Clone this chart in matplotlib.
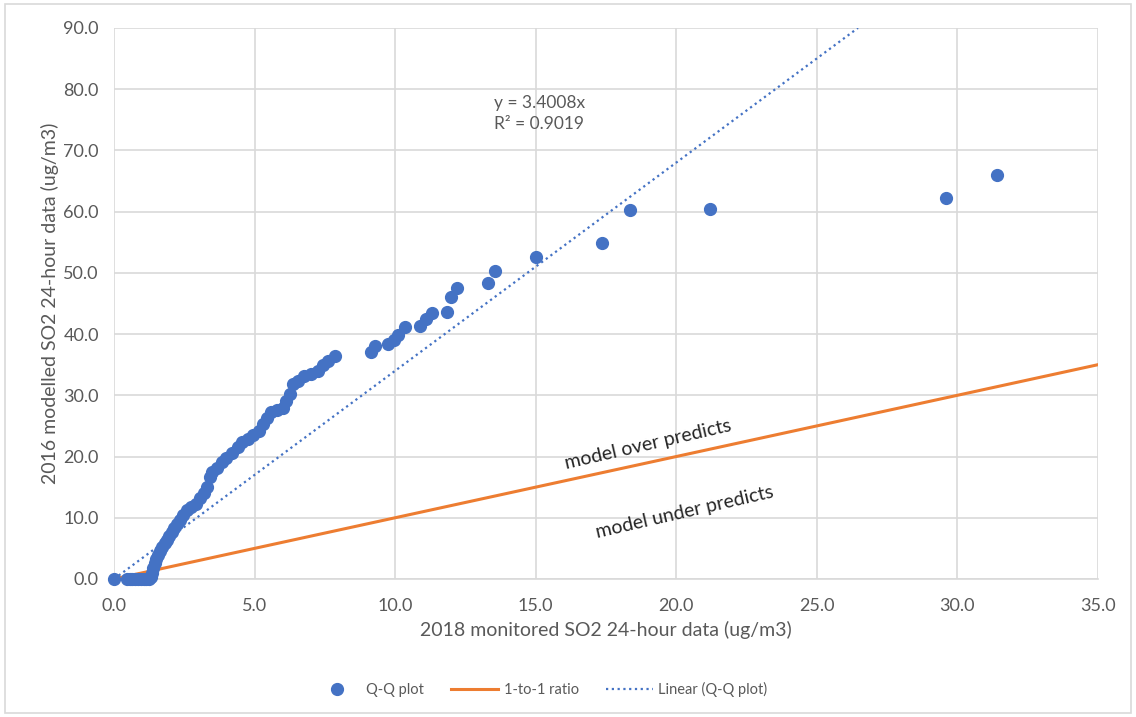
import matplotlib.pyplot as plt
from matplotlib.patches import Rectangle

plt.rcParams['font.family'] = ['Lato', 'DejaVu Sans']

# Q-Q points (monitored, modelled)
qq_x = [0.0, 0.45, 0.55, 0.65, 0.75, 0.85, 0.95, 1.05, 1.15, 1.25,
        1.3, 1.35, 1.4, 1.45, 1.5, 1.58, 1.65, 1.72, 1.8, 1.87,
        1.95, 2.05, 2.15, 2.25, 2.35, 2.45, 2.6, 2.75, 2.9, 3.05,
        3.2, 3.3, 3.4, 3.5, 3.65, 3.85, 4.0, 4.2, 4.4, 4.55,
        4.75, 4.95, 5.15, 5.3, 5.45, 5.6, 5.8, 6.0, 6.1, 6.25,
        6.35, 6.55, 6.75, 7.0, 7.25, 7.45, 7.6, 7.85, 9.15, 9.3,
        9.75, 9.95, 10.1, 10.35, 10.9, 11.1, 11.3, 11.85, 12.0, 12.2,
        13.3, 13.55, 15.0, 17.35, 18.35, 21.2, 29.6, 31.4]
qq_y = [0.0, 0.0, 0.0, 0.0, 0.0, 0.0, 0.0, 0.0, 0.0, 0.0,
        0.4, 1.0, 1.8, 2.6, 3.3, 3.9, 4.6, 5.3, 5.9, 6.4,
        7.0, 7.6, 8.3, 9.0, 9.7, 10.4, 11.2, 11.8, 12.3, 13.3,
        14.0, 15.0, 16.6, 17.5, 18.2, 19.1, 19.8, 20.5, 21.5, 22.4,
        22.8, 23.5, 24.2, 25.3, 26.3, 27.3, 27.6, 28.0, 29.0, 30.2,
        31.8, 32.4, 33.2, 33.5, 34.0, 34.9, 35.6, 36.4, 37.0, 38.0,
        38.4, 39.0, 39.8, 41.1, 41.3, 42.4, 43.5, 43.6, 46.0, 47.5,
        48.3, 50.3, 52.6, 54.9, 60.3, 60.5, 62.3, 66.0]

ratio_x = [0, 35]
ratio_y = [0, 35]

slope = 3.4008
r2 = 0.9019
trend_x = [0, 90 / slope]
trend_y = [0, 90]

x_ticks = [0, 5, 10, 15, 20, 25, 30, 35]
y_ticks = [0, 10, 20, 30, 40, 50, 60, 70, 80, 90]

blue = '#4472C4'
orange = '#ED7D31'
grey = '#595959'

fig = plt.figure(figsize=(11.36, 7.17), dpi=100)
ax = fig.add_axes([0.1004, 0.1925, 0.8661, 0.7685])

ax.plot(ratio_x, ratio_y, color=orange, lw=2.2, label='1-to-1 ratio', zorder=2)
ax.plot(trend_x, trend_y, color=blue, lw=1.6, ls=(0, (1, 1.6)), label='Linear (Q-Q plot)', zorder=3)
ax.plot(qq_x, qq_y, 'o', color=blue, ms=8.5, mec=blue, label='Q-Q plot', zorder=4, clip_on=False)

ax.set_xlim(0, 35)
ax.set_ylim(0, 90)
ax.set_xticks(x_ticks)
ax.set_yticks(y_ticks)
ax.set_xticklabels([f'{v:.1f}' for v in x_ticks])
ax.set_yticklabels([f'{v:.1f}' for v in y_ticks])
ax.tick_params(length=0, labelsize=13, colors=grey)
ax.tick_params(axis='y', pad=11)
ax.tick_params(axis='x', pad=14)
ax.grid(True, color='#d9d9d9', lw=1.2)
ax.set_axisbelow(True)
for s in ['top', 'right', 'left']:
    ax.spines[s].set_visible(False)
ax.spines['bottom'].set_color('#d9d9d9')
ax.spines['bottom'].set_linewidth(1.2)

ax.set_xlabel('2018 monitored SO2 24-hour data (ug/m3)', fontsize=14, color=grey, labelpad=5)
ax.set_ylabel('2016 modelled SO2 24-hour data (ug/m3)', fontsize=14, color=grey, labelpad=3)

ax.text(13.5, 73.5, f'y = {slope}x\nR² = {r2}', fontsize=12.5, color=grey, linespacing=1.4)
ax.text(19.0, 22.0, 'model over predicts', fontsize=14, color='#262626', rotation=13,
        ha='center', va='center', rotation_mode='anchor')
ax.text(20.3, 10.9, 'model under predicts', fontsize=14, color='#262626', rotation=13,
        ha='center', va='center', rotation_mode='anchor')

h, l = ax.get_legend_handles_labels()
order = [2, 0, 1]
fig.legend([h[i] for i in order], [l[i] for i in order], loc='center',
           bbox_to_anchor=(0.476, 0.038), ncol=3, frameon=False, fontsize=10.5,
           labelcolor=grey, handlelength=3.2, handletextpad=0.4, columnspacing=1.85)

fig.patches.append(Rectangle((0.004, 0.006), 0.992, 0.988, transform=fig.transFigure,
                             fill=False, edgecolor='#d9d9d9', lw=1.2))

fig.savefig('out.png', dpi=100)
